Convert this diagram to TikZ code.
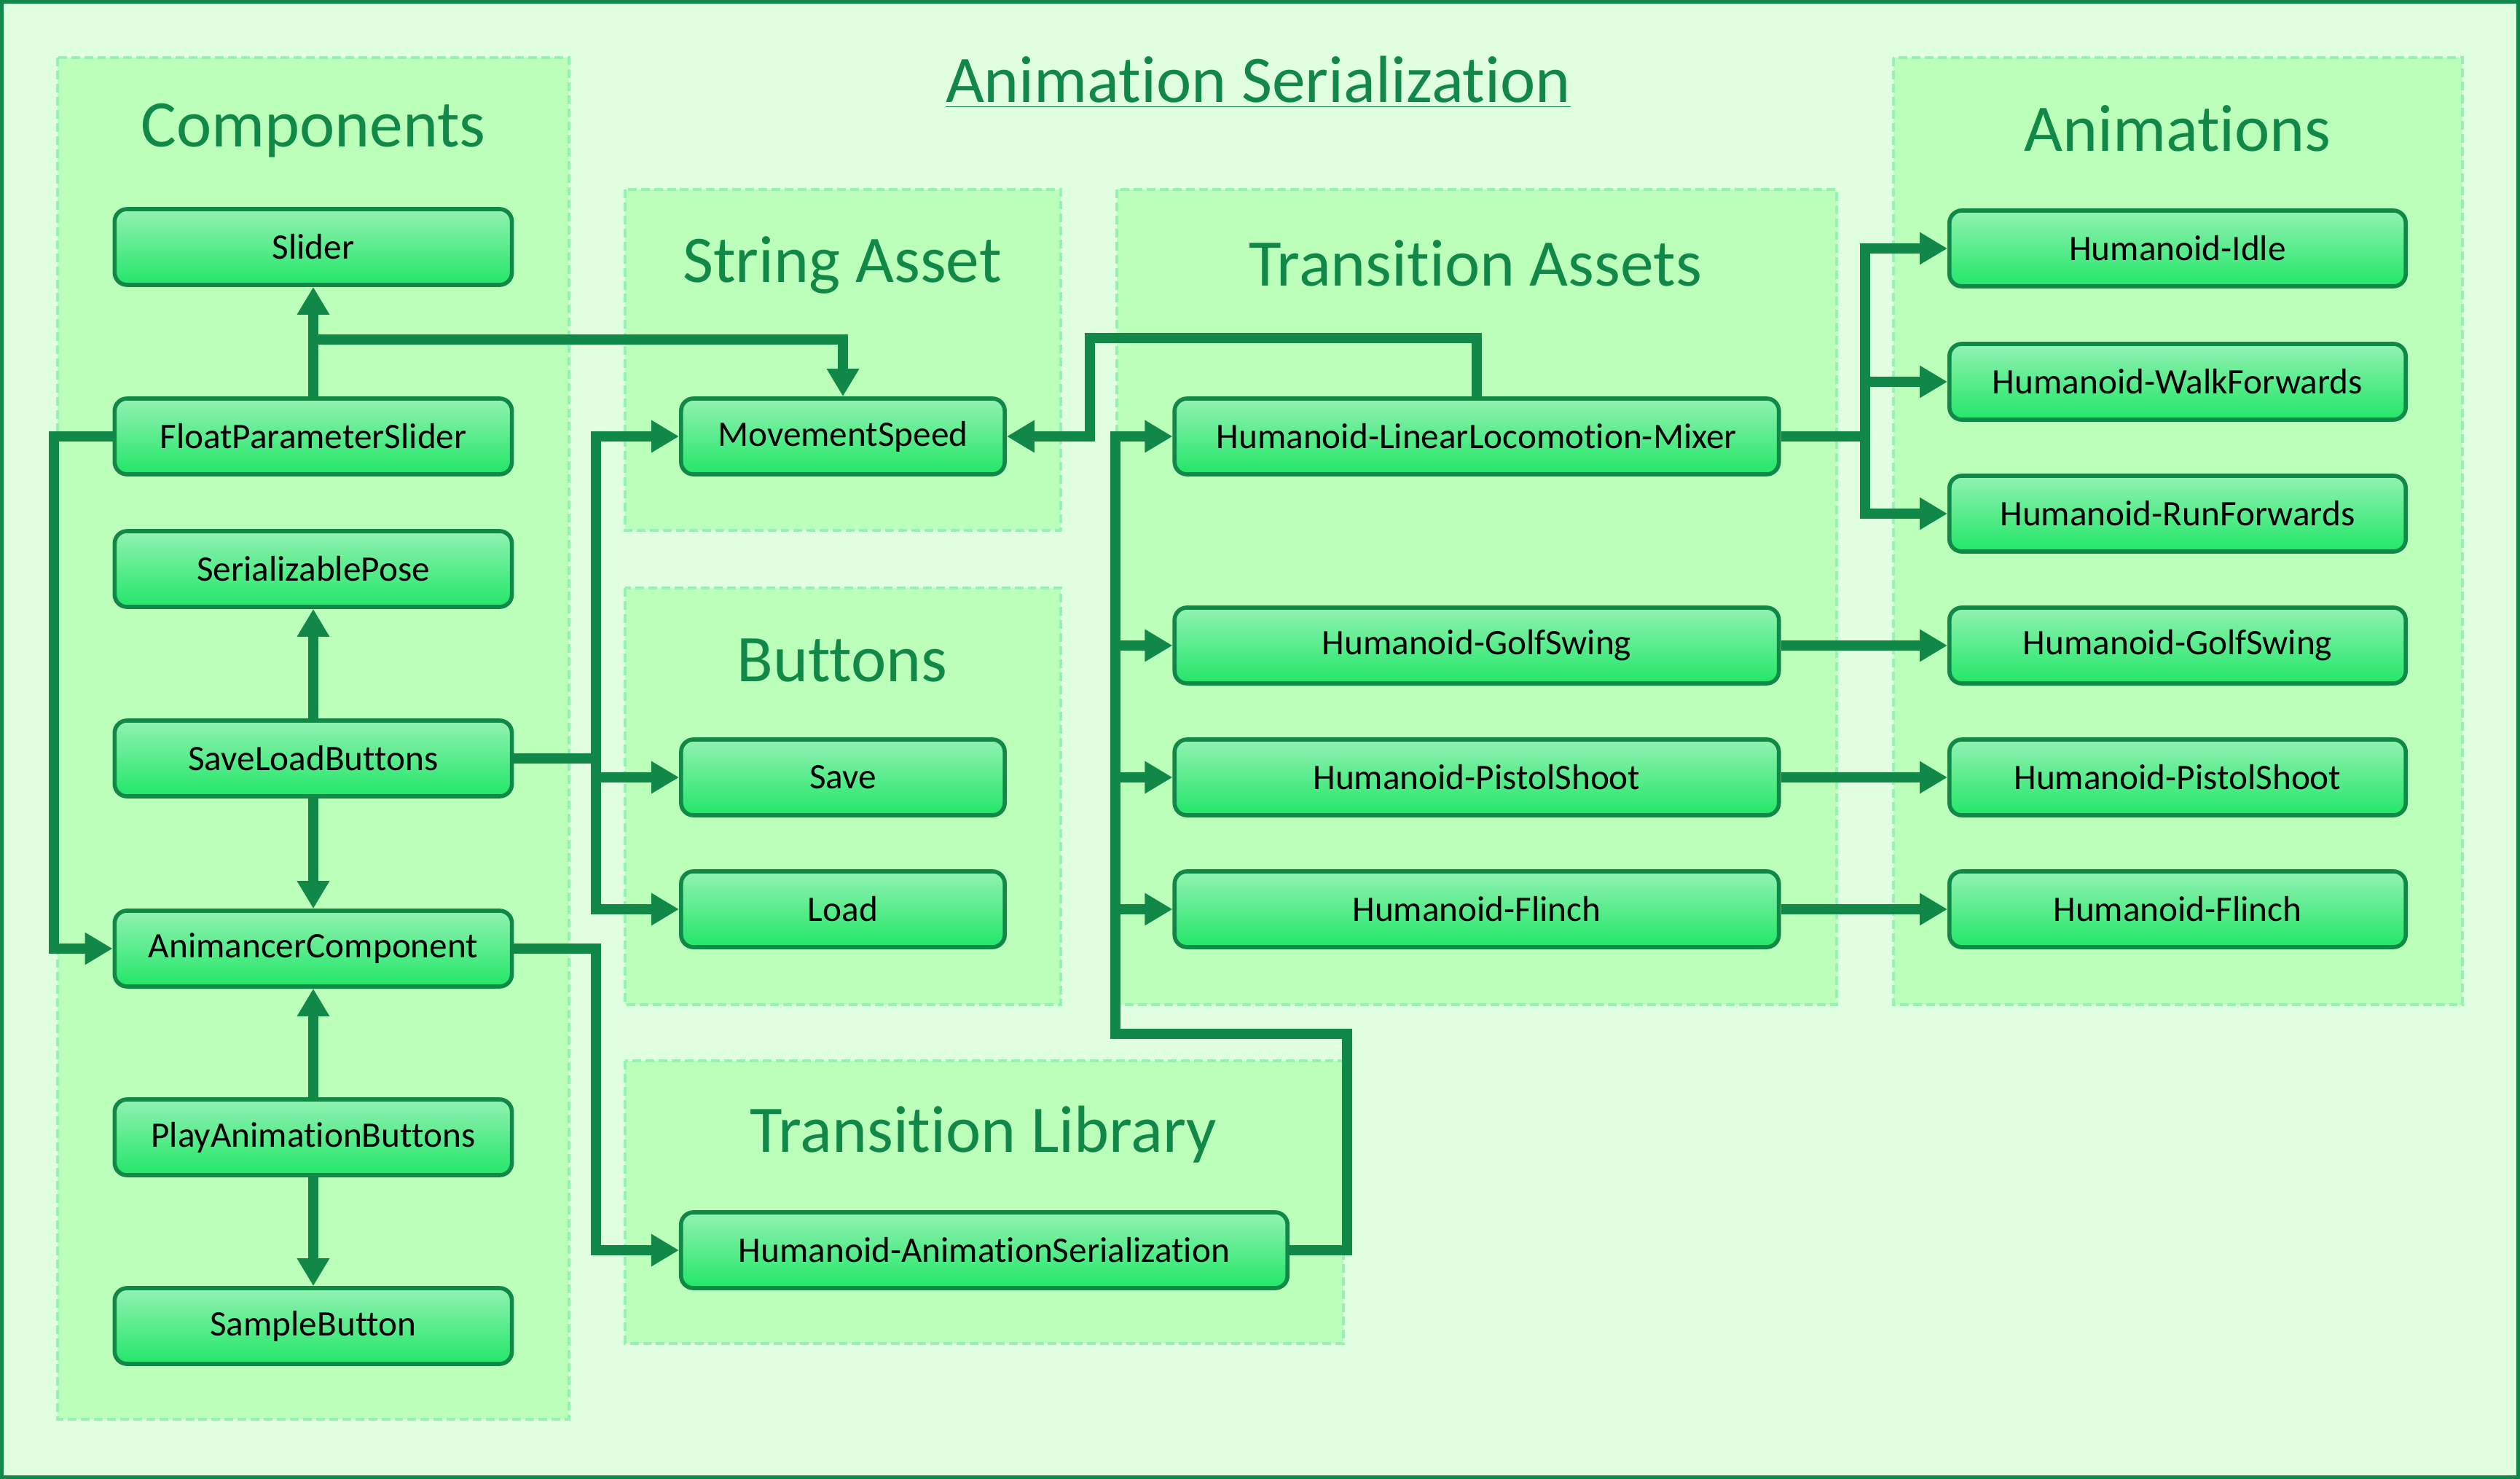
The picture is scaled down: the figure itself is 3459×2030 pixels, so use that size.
\documentclass[tikz,border=0pt]{standalone}
\usepackage{fontspec}
\setmainfont[Ligatures=NoCommon]{Carlito}
\usetikzlibrary{arrows.meta}
\definecolor{dg}{RGB}{17,136,71}
\definecolor{bg}{RGB}{224,255,224}
\definecolor{grp}{RGB}{187,255,187}
\definecolor{grpb}{RGB}{150,242,180}
\definecolor{ntop}{RGB}{146,242,178}
\definecolor{nbot}{RGB}{34,230,104}
\begin{document}
\begin{tikzpicture}[x=0.01cm,y=-0.01cm,
 box/.style={draw=dg, line width=1.6pt, rounded corners=0.17cm, top color=ntop, bottom color=nbot, minimum height=1.04cm, font=\fontsize{14}{16}\selectfont, text=black, inner sep=0pt},
 grpbox/.style={fill=grp, draw=grpb, line width=1.1pt, dash pattern=on 3.4pt off 1.7pt},
 gtitle/.style={font=\fontsize{26}{30}\selectfont, text=dg},
 conn/.style={draw=dg, line width=4pt},
 arr/.style={conn, -{Triangle[width=0.42cm,length=0.38cm]}},
]
\useasboundingbox (0,0) rectangle (3459,2030);
\fill[bg] (0,0) rectangle (3459,2030);
\draw[dg, line width=1.5pt] (2.5,2.5) rectangle (3456.5,2027.5);

% groups
\path[grpbox] (79,79) rectangle (781,1948);
\path[grpbox] (858,260) rectangle (1456,728);
\path[grpbox] (858,807) rectangle (1456,1379);
\path[grpbox] (858,1456) rectangle (1844,1844);
\path[grpbox] (1533,260) rectangle (2521,1379);
\path[grpbox] (2599,79) rectangle (3380,1379);

\node[font=\fontsize{26}{30}\selectfont, text=dg] (title) at (1727,113) {\underline{Animation Serialization}};
\node[gtitle] (tcomp) at (430,179) {Components};
\node[gtitle] (tstr) at (1156,364) {String Asset};
\node[gtitle] (tbtn) at (1156,906) {Buttons};
\node[gtitle] (tlib) at (1350,1557) {Transition Library};
\node[gtitle] (tta) at (2025,361) {Transition Assets};
\node[gtitle] (tanim) at (2989,176) {Animations};

% nodes
\begin{scope}[every node/.append style={box, minimum width=5.45cm}]
\node (slider) at (430,339) {Slider};
\node (fps) at (430,599) {FloatParameterSlider};
\node (sp) at (430,781) {SerializablePose};
\node (slb) at (430,1041) {SaveLoadButtons};
\node (ac) at (430,1302) {AnimancerComponent};
\node (pab) at (430,1561) {PlayAnimationButtons};
\node (sb) at (430,1820) {SampleButton};
\end{scope}
\begin{scope}[every node/.append style={box, minimum width=4.44cm}]
\node (ms) at (1157,599) {MovementSpeed};
\node (save) at (1157,1067) {Save};
\node (load) at (1157,1248) {Load};
\end{scope}
\node[box, minimum width=8.32cm] (has) at (1351,1716) {Humanoid-AnimationSerialization};
\begin{scope}[every node/.append style={box, minimum width=8.29cm}]
\node (mixer) at (2027,599) {Humanoid-LinearLocomotion-Mixer};
\node (golf) at (2027,886) {Humanoid-GolfSwing};
\node (pistol) at (2027,1067) {Humanoid-PistolShoot};
\node (flinch) at (2027,1248) {Humanoid-Flinch};
\end{scope}
\begin{scope}[every node/.append style={box, minimum width=6.26cm}]
\node (idle) at (2989,341) {Humanoid-Idle};
\node (walk) at (2989,524) {Humanoid-WalkForwards};
\node (run) at (2989,705) {Humanoid-RunForwards};
\node (agolf) at (2989,886) {Humanoid-GolfSwing};
\node (apistol) at (2989,1067) {Humanoid-PistolShoot};
\node (aflinch) at (2989,1248) {Humanoid-Flinch};
\end{scope}

% connectors
\coordinate (j1) at (430,466);
\coordinate (lx) at (74,0);
\coordinate (bx) at (818,0);
\coordinate (rx) at (1849,1419);
\coordinate (tx) at (1531,0);
\coordinate (my) at (0,464);
\coordinate (mx) at (1496,0);
\coordinate (ax) at (2560,0);

\draw[arr] (fps.north) -- (slider.south);
\draw[arr] (fps.north |- j1) -| (ms.north);
\draw[arr] (fps.west) -- (fps.west -| lx) |- (ac.west);
\draw[arr] (slb.north) -- (sp.south);
\draw[arr] (slb.south) -- (ac.north);
\draw[arr] (pab.north) -- (ac.south);
\draw[arr] (pab.south) -- (sb.north);

\draw[arr] (slb.east) -- (slb.east -| bx) |- (ms.west);
\draw[arr] (slb.east) -- (slb.east -| bx) |- (save.west);
\draw[arr] (slb.east) -- (slb.east -| bx) |- (load.west);
\draw[arr] (ac.east) -- (ac.east -| bx) |- (has.west);

\draw[arr] (has.east) -| (rx) -- (rx -| tx) |- (mixer.west);
\draw[arr] (has.east) -| (rx) -- (rx -| tx) |- (golf.west);
\draw[arr] (has.east) -| (rx) -- (rx -| tx) |- (pistol.west);
\draw[arr] (has.east) -| (rx) -- (rx -| tx) |- (flinch.west);

\draw[arr] (mixer.north) -- (mixer.north |- my) -- (mx |- my) |- (ms.east);

\draw[arr] (mixer.east) -- (mixer.east -| ax) |- (idle.west);
\draw[arr] (mixer.east) -- (mixer.east -| ax) |- (walk.west);
\draw[arr] (mixer.east) -- (mixer.east -| ax) |- (run.west);

\draw[arr] (golf.east) -- (agolf.west);
\draw[arr] (pistol.east) -- (apistol.west);
\draw[arr] (flinch.east) -- (aflinch.west);
\end{tikzpicture}
\end{document}
